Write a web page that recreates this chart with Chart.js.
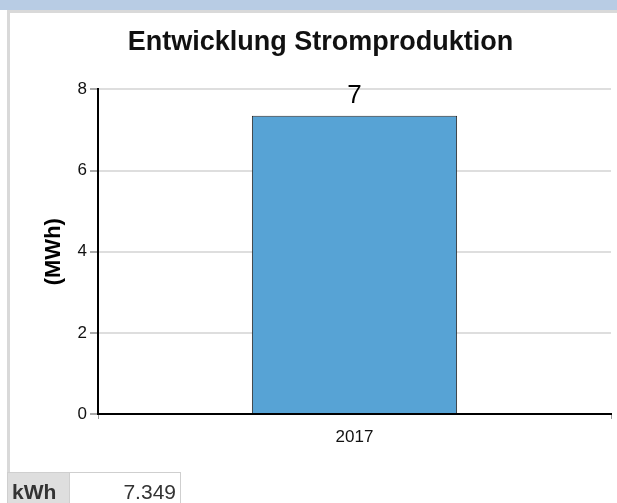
<!DOCTYPE html>
<html lang="de">
<head>
<meta charset="UTF-8">
<title>Entwicklung Stromproduktion</title>
<script src="https://cdn.jsdelivr.net/npm/chart.js"></script>
<style>
  html, body { margin: 0; padding: 0; background: #fff; overflow: hidden; }
  body { width: 617px; height: 503px; font-family: 'Liberation Sans', Arial, sans-serif; }
  .topbar { height: 10px; background: #b8cce4; }
  .panel {
    position: absolute; left: 7px; top: 10px; width: 640px; height: 463px;
    border-left: 3px solid #d9d9d9; border-top: 3px solid #d9d9d9;
    box-sizing: border-box;
  }
  .chart-wrap { position: absolute; left: 10px; top: 13px; width: 607px; height: 460px; }
  table.summary {
    position: absolute; left: 7px; top: 472px; border-collapse: collapse;
    font-size: 21px; color: #333;
  }
  table.summary td { border: 1px solid #cfcfcf; height: 38px; padding: 0 4px; vertical-align: middle; }
  table.summary td.unit { background: #dedede; font-weight: bold; width: 53px; padding-left: 4px; }
  table.summary td.val { width: 102px; text-align: right; padding-right: 4px; }
</style>
</head>
<body>
<div class="topbar"></div>
<div class="panel"></div>
<div class="chart-wrap"><canvas id="prod"></canvas></div>
<table class="summary">
  <tr><td class="unit">kWh</td><td class="val" id="kwh"></td></tr>
</table>

<script>
// Jahresproduktion
const years = ['2017'];
const productionMWh = [7.349];
const yTicks = [0, 2, 4, 6, 8];

document.getElementById('kwh').textContent =
  productionMWh[productionMWh.length - 1].toFixed(3);

// Wert (gerundet) ueber dem Balken
const barValueLabels = {
  id: 'barValueLabels',
  afterDatasetsDraw(chart) {
    const ctx = chart.ctx;
    const meta = chart.getDatasetMeta(0);
    ctx.save();
    ctx.font = '26px "Liberation Sans", Arial, sans-serif';
    ctx.fillStyle = '#000';
    ctx.textAlign = 'center';
    ctx.textBaseline = 'alphabetic';
    meta.data.forEach((bar, i) => {
      ctx.fillText(Math.round(productionMWh[i]), bar.x, bar.y - 13);
    });
    ctx.restore();
  }
};

new Chart(document.getElementById('prod'), {
  type: 'bar',
  data: {
    labels: years,
    datasets: [{
      data: productionMWh,
      backgroundColor: '#57a3d5',
      borderColor: '#2b2b2b',
      borderWidth: 1,
      barPercentage: 0.4,
      categoryPercentage: 1
    }]
  },
  options: {
    responsive: true,
    maintainAspectRatio: false,
    animation: false,
    layout: { padding: { left: 20, right: 6, top: 0, bottom: 0 } },
    plugins: {
      legend: { display: false },
      tooltip: { enabled: false },
      title: {
        display: true,
        text: 'Entwicklung Stromproduktion',
        color: '#111',
        font: { family: '"Liberation Sans", Arial, sans-serif', size: 27, weight: 'bold' },
        padding: { top: 13, bottom: 31 }
      }
    },
    scales: {
      x: {
        offset: true,
        border: { color: '#000', width: 2 },
        grid: { drawOnChartArea: false, tickLength: 5, tickColor: '#999', offset: true },
        ticks: {
          color: '#111', padding: 8,
          font: { family: '"Liberation Sans", Arial, sans-serif', size: 17 }
        },
        afterFit(scale) { scale.height = 59; }
      },
      y: {
        min: 0,
        max: 8,
        afterBuildTicks(scale) { scale.ticks = yTicks.map(v => ({ value: v })); },
        border: { color: '#000', width: 2 },
        grid: { color: '#dedede', lineWidth: 2, tickLength: 8, tickColor: '#aaa' },
        ticks: {
          color: '#111', padding: 3,
          font: { family: '"Liberation Sans", Arial, sans-serif', size: 17 }
        },
        title: {
          display: true,
          text: '(MWh)',
          color: '#000',
          font: { family: '"Liberation Sans", Arial, sans-serif', size: 22, weight: 'bold' },
          padding: { top: 11, bottom: 6 }
        },
        afterFit(scale) { scale.width = 68; }
      }
    }
  },
  plugins: [barValueLabels]
});
</script>
</body>
</html>
